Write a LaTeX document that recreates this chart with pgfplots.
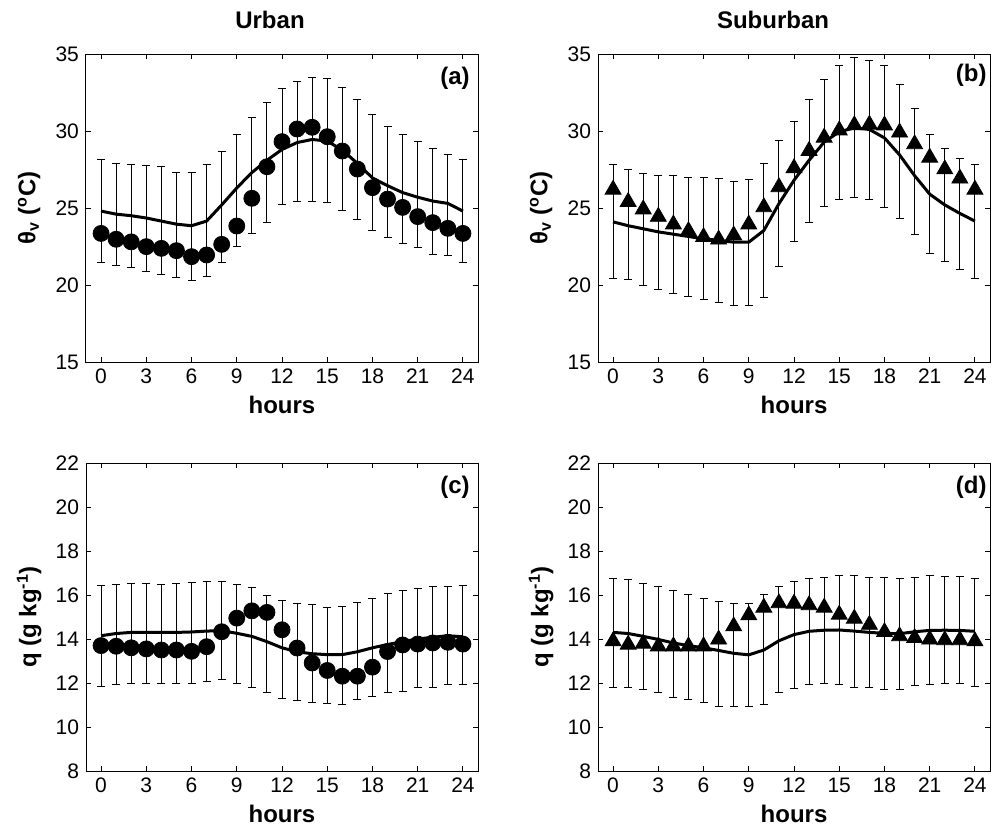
\documentclass[border=0pt]{standalone}
\usepackage{fontspec}
\setmainfont{Liberation Sans}
\usepackage{pgfplots}
\pgfplotsset{compat=1.18}
\usepackage{pgfplotstable}

% Urban theta_v: h, model points (c), mean line (m), mean+std (hi), mean-std (lo)
\pgfplotstableread{
h c m hi lo
0 23.35 24.80 28.12 21.45
1 22.97 24.60 27.90 21.26
2 22.80 24.50 27.84 21.15
3 22.49 24.35 27.79 20.87
4 22.38 24.15 27.68 20.65
5 22.23 23.95 27.29 20.48
6 21.84 23.85 27.29 20.32
7 21.95 24.15 27.84 20.54
8 22.64 25.20 28.66 21.45
9 23.83 26.30 29.78 22.49
10 25.63 27.30 30.87 23.35
11 27.68 28.10 31.84 24.05
12 29.31 28.80 32.77 25.24
13 30.13 29.25 33.20 25.45
14 30.24 29.45 33.46 25.45
15 29.63 29.35 33.38 25.35
16 28.70 28.75 32.84 24.83
17 27.53 27.90 32.06 24.26
18 26.32 26.95 31.08 23.57
19 25.58 26.45 30.28 23.07
20 25.04 26.00 29.78 22.71
21 24.44 25.70 29.31 22.42
22 24.05 25.45 28.87 22.01
23 23.68 25.30 28.50 21.90
24 23.35 24.80 28.16 21.45
}\ua
% Suburban theta_v
\pgfplotstableread{
h c m hi lo
0 26.34 24.10 27.82 20.44
1 25.54 23.85 27.49 20.33
2 25.06 23.65 27.27 19.96
3 24.58 23.45 27.14 19.74
4 24.08 23.30 27.08 19.48
5 23.65 23.15 27.01 19.28
6 23.26 23.00 26.99 19.09
7 23.10 22.90 26.90 18.89
8 23.37 22.78 26.75 18.70
9 24.08 22.78 26.84 18.70
10 25.20 23.54 27.88 19.20
11 26.50 25.28 29.36 21.19
12 27.73 26.80 30.64 22.84
13 28.86 28.10 32.05 24.08
14 29.72 29.28 33.35 25.10
15 30.19 29.95 34.24 25.58
16 30.52 30.20 34.76 25.67
17 30.56 30.10 34.61 25.58
18 30.51 29.55 34.24 25.01
19 30.05 28.45 33.02 24.30
20 29.29 27.10 31.46 23.26
21 28.42 25.90 29.79 22.06
22 27.66 25.20 28.86 21.52
23 27.06 24.65 28.21 20.98
24 26.34 24.15 27.82 20.44
}\sa
% Urban q
\pgfplotstableread{
h c m hi lo
0 13.70 14.15 16.45 11.86
1 13.67 14.25 16.49 11.92
2 13.60 14.30 16.54 11.99
3 13.55 14.30 16.54 11.96
4 13.50 14.30 16.49 11.96
5 13.50 14.30 16.54 11.96
6 13.44 14.32 16.57 11.99
7 13.65 14.36 16.61 12.07
8 14.33 14.38 16.61 12.14
9 14.95 14.26 16.49 11.99
10 15.28 14.12 16.34 11.81
11 15.21 13.88 16.00 11.58
12 14.42 13.60 15.77 11.31
13 13.59 13.42 15.62 11.21
14 12.91 13.33 15.58 11.10
15 12.57 13.29 15.43 11.06
16 12.31 13.29 15.48 11.01
17 12.31 13.42 15.66 11.24
18 12.72 13.60 15.84 11.40
19 13.43 13.75 16.07 11.55
20 13.73 13.88 16.22 11.61
21 13.77 14.00 16.31 11.78
22 13.82 14.08 16.37 11.78
23 13.85 14.15 16.38 11.92
24 13.77 14.10 16.45 11.92
}\uq
% Suburban q
\pgfplotstableread{
h c m hi lo
0 14.00 14.30 16.75 11.81
1 13.85 14.25 16.72 11.78
2 13.89 14.12 16.52 11.69
3 13.77 13.98 16.37 11.55
4 13.77 13.82 16.22 11.36
5 13.77 13.70 16.04 11.24
6 13.77 13.60 15.84 11.10
7 14.08 13.48 15.71 10.95
8 14.68 13.35 15.63 10.91
9 15.18 13.28 15.63 10.91
10 15.53 13.50 16.04 11.01
11 15.73 13.92 16.37 11.55
12 15.71 14.20 16.61 11.74
13 15.64 14.35 16.75 11.92
14 15.53 14.40 16.80 11.96
15 15.21 14.41 16.90 11.92
16 15.03 14.36 16.90 11.78
17 14.75 14.30 16.80 11.78
18 14.42 14.26 16.80 11.69
19 14.23 14.24 16.76 11.69
20 14.15 14.33 16.80 11.89
21 14.08 14.39 16.90 11.92
22 14.05 14.40 16.84 11.96
23 14.05 14.39 16.84 11.96
24 14.00 14.35 16.75 11.84
}\sq

\tikzset{plab/.style={anchor=north east, inner sep=0pt, font=\bfseries\fontsize{12}{14}\selectfont}}

\pgfplotsset{
  panel/.style={
    scale only axis, width=196pt, height=154pt, anchor=south west,
    xmin=-1, xmax=25, xtick={0,3,...,24},
    tick align=inside, major tick length=2.5pt,
    axis line style={line width=0.5pt},
    every tick/.style={black, line width=0.5pt},
    tick label style={font=\fontsize{10.5}{12}\selectfont},
    /pgf/number format/assume math mode=true,
    xlabel={hours},
    xlabel style={font=\bfseries\fontsize{12}{14}\selectfont, at={(axis description cs:0.5,-0.14)}, anchor=center},
    ylabel style={font=\bfseries\fontsize{12}{14}\selectfont, at={(axis description cs:-0.145,0.5)}, anchor=center},
    clip=false,
  },
  tpanel/.style={panel, ymin=15, ymax=35, ytick={15,20,...,35},
    ylabel={θ\textsubscript{v} (\textsuperscript{o}C)}},
  qpanel/.style={panel, ymin=8, ymax=22, ytick={8,10,...,22},
    ylabel={q (g kg\textsuperscript{-1})}},
  meanline/.style={black, line width=1.5pt, line join=round, mark=none,
    error bars/.cd, y dir=both, y explicit,
    error bar style={line width=0.5pt, black},
    error mark options={black, line width=0.5pt, mark size=2pt, rotate=90}},
}

\begin{document}
\begin{tikzpicture}
\useasboundingbox (0,0) rectangle (500pt,416pt);
\node[font=\bfseries\fontsize{12}{14}\selectfont] at (135pt,406pt) {Urban};
\node[font=\bfseries\fontsize{12}{14}\selectfont] at (386.5pt,406pt) {Suburban};

% (a)
\begin{axis}[tpanel, at={(43pt,235pt)}]
\addplot[meanline] table[x=h, y=m, y error plus expr=\thisrow{hi}-\thisrow{m}, y error minus expr=\thisrow{m}-\thisrow{lo}] {\ua};
\addplot[only marks, mark=*, mark size=4pt, black, fill=black] table[x=h, y=c] {\ua};
\node[plab] at (rel axis cs:1,1) [xshift=-4pt, yshift=-6.5pt] {(a)};
\end{axis}

% (b)
\begin{axis}[tpanel, at={(299pt,235pt)}]
\addplot[meanline] table[x=h, y=m, y error plus expr=\thisrow{hi}-\thisrow{m}, y error minus expr=\thisrow{m}-\thisrow{lo}] {\sa};
\addplot[only marks, mark=triangle*, mark size=4.6pt, black, fill=black, mark options={yshift=-1.1pt}] table[x=h, y=c] {\sa};
\node[plab] at (rel axis cs:1,1) [xshift=-1.5pt, yshift=-5pt] {(b)};
\end{axis}

% (c)
\begin{axis}[qpanel, at={(43pt,30.5pt)}]
\addplot[meanline] table[x=h, y=m, y error plus expr=\thisrow{hi}-\thisrow{m}, y error minus expr=\thisrow{m}-\thisrow{lo}] {\uq};
\addplot[only marks, mark=*, mark size=4pt, black, fill=black] table[x=h, y=c] {\uq};
\node[plab] at (rel axis cs:1,1) [xshift=-4pt, yshift=-6.5pt] {(c)};
\end{axis}

% (d)
\begin{axis}[qpanel, at={(299pt,30.5pt)}]
\addplot[meanline] table[x=h, y=m, y error plus expr=\thisrow{hi}-\thisrow{m}, y error minus expr=\thisrow{m}-\thisrow{lo}] {\sq};
\addplot[only marks, mark=triangle*, mark size=4.6pt, black, fill=black, mark options={yshift=-1.1pt}] table[x=h, y=c] {\sq};
\node[plab] at (rel axis cs:1,1) [xshift=-1.5pt, yshift=-6.5pt] {(d)};
\end{axis}
\end{tikzpicture}
\end{document}
